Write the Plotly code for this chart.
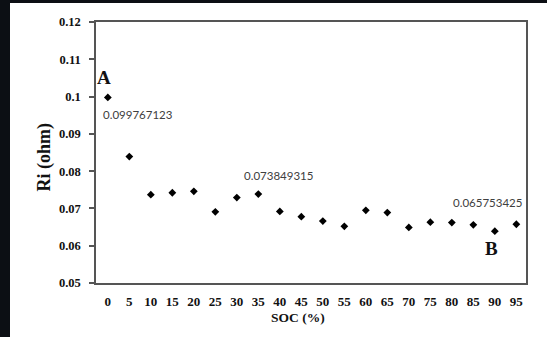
import plotly.graph_objects as go

# Internal resistance versus state of charge
soc = [0, 5, 10, 15, 20, 25, 30, 35, 40, 45, 50, 55, 60, 65, 70, 75, 80, 85, 90, 95]
ri = [0.099767123, 0.0839, 0.0737, 0.0742, 0.0746, 0.0691, 0.0729, 0.073849315,
      0.0692, 0.0678, 0.0666, 0.0652, 0.0695, 0.0689, 0.0649, 0.0663, 0.0662,
      0.0656, 0.0639, 0.065753425]

y_ticks = [0.05, 0.06, 0.07, 0.08, 0.09, 0.1, 0.11, 0.12]
y_tick_text = ["0.05", "0.06", "0.07", "0.08", "0.09", "0.1", "0.11", "0.12"]

# points whose values are printed next to them: (soc, xshift, yshift)
labelled = [(0, 30, -17), (35, 20, 19), (95, -29, 22)]
# point letters: (text, soc, xshift, yshift)
letters = [("A", 0, -4, 20), ("B", 90, -3, -17)]

W, H = 547, 337
L, R, T, B = 96, 21, 22, 54
pw, ph = W - L - R, H - T - B

cats = [str(s) for s in soc]
idx = {s: i for i, s in enumerate(soc)}

fig = go.Figure()
fig.add_trace(go.Scatter(
    x=list(range(len(soc))), y=ri, mode="markers",
    marker=dict(symbol="diamond", size=6, color="#000000"),
    showlegend=False, hoverinfo="skip",
))

serif = "Liberation Serif, Times New Roman, serif"
ink = "#111111"
annotations = []
for s, dx, dy in labelled:
    v = ri[idx[s]]
    annotations.append(dict(
        x=idx[s], y=v, xref="x", yref="y", text=f"{v:.9f}", showarrow=False,
        xanchor="center", yanchor="middle", xshift=dx, yshift=dy,
        font=dict(family="Lato, Open Sans, sans-serif", size=11.5, color="#404040"),
    ))
for t, s, dx, dy in letters:
    annotations.append(dict(
        x=idx[s], y=ri[idx[s]], xref="x", yref="y", text=t,
        showarrow=False, xanchor="center", yanchor="middle", xshift=dx, yshift=dy,
        font=dict(family=serif, size=19, color=ink, weight="bold"),
    ))
# axis titles
annotations.append(dict(
    x=(44 - L) / pw, y=(H - B - 157.5) / ph, xref="paper", yref="paper",
    xanchor="center", yanchor="middle",
    text="Ri (ohm)", textangle=-90, showarrow=False,
    font=dict(family=serif, size=18, color=ink, weight="bold"),
))
annotations.append(dict(
    x=(298 - L) / pw, y=-(317 - (H - B)) / ph, xref="paper", yref="paper",
    xanchor="center", yanchor="middle",
    text="SOC (%)", showarrow=False,
    font=dict(family=serif, size=13.5, color=ink, weight="bold"),
))

# white page on a dark frame
shapes = [dict(
    type="rect", xref="paper", yref="paper", layer="below",
    x0=(10 - L) / pw, x1=(W - L) / pw + 0.01,
    y0=-(B + 2) / ph, y1=1 + (T - 3) / ph,
    fillcolor="#ffffff", line=dict(width=0),
)]

axis_line = dict(showline=True, linecolor="#555555", linewidth=1.5, mirror=True,
                 showgrid=False, zeroline=False)

fig.update_layout(
    width=W, height=H,
    margin=dict(l=L, r=R, t=T, b=B, pad=0),
    paper_bgcolor="#0c0f14", plot_bgcolor="#ffffff",
    xaxis=dict(
        range=[-0.55, 19.45], tickmode="array",
        tickvals=list(range(len(soc))), ticktext=cats,
        ticks="", ticklabelstandoff=6,
        tickfont=dict(family=serif, size=13, color=ink, weight="bold"),
        **axis_line,
    ),
    yaxis=dict(
        range=[0.05, 0.12], tickmode="array", tickvals=y_ticks, ticktext=y_tick_text,
        ticks="outside", ticklen=5, tickwidth=1.5, tickcolor="#555555",
        ticklabelstandoff=6,
        tickfont=dict(family=serif, size=12.5, color=ink, weight="bold"),
        **axis_line,
    ),
    annotations=annotations,
    shapes=shapes,
)

fig.write_html("out.html")
